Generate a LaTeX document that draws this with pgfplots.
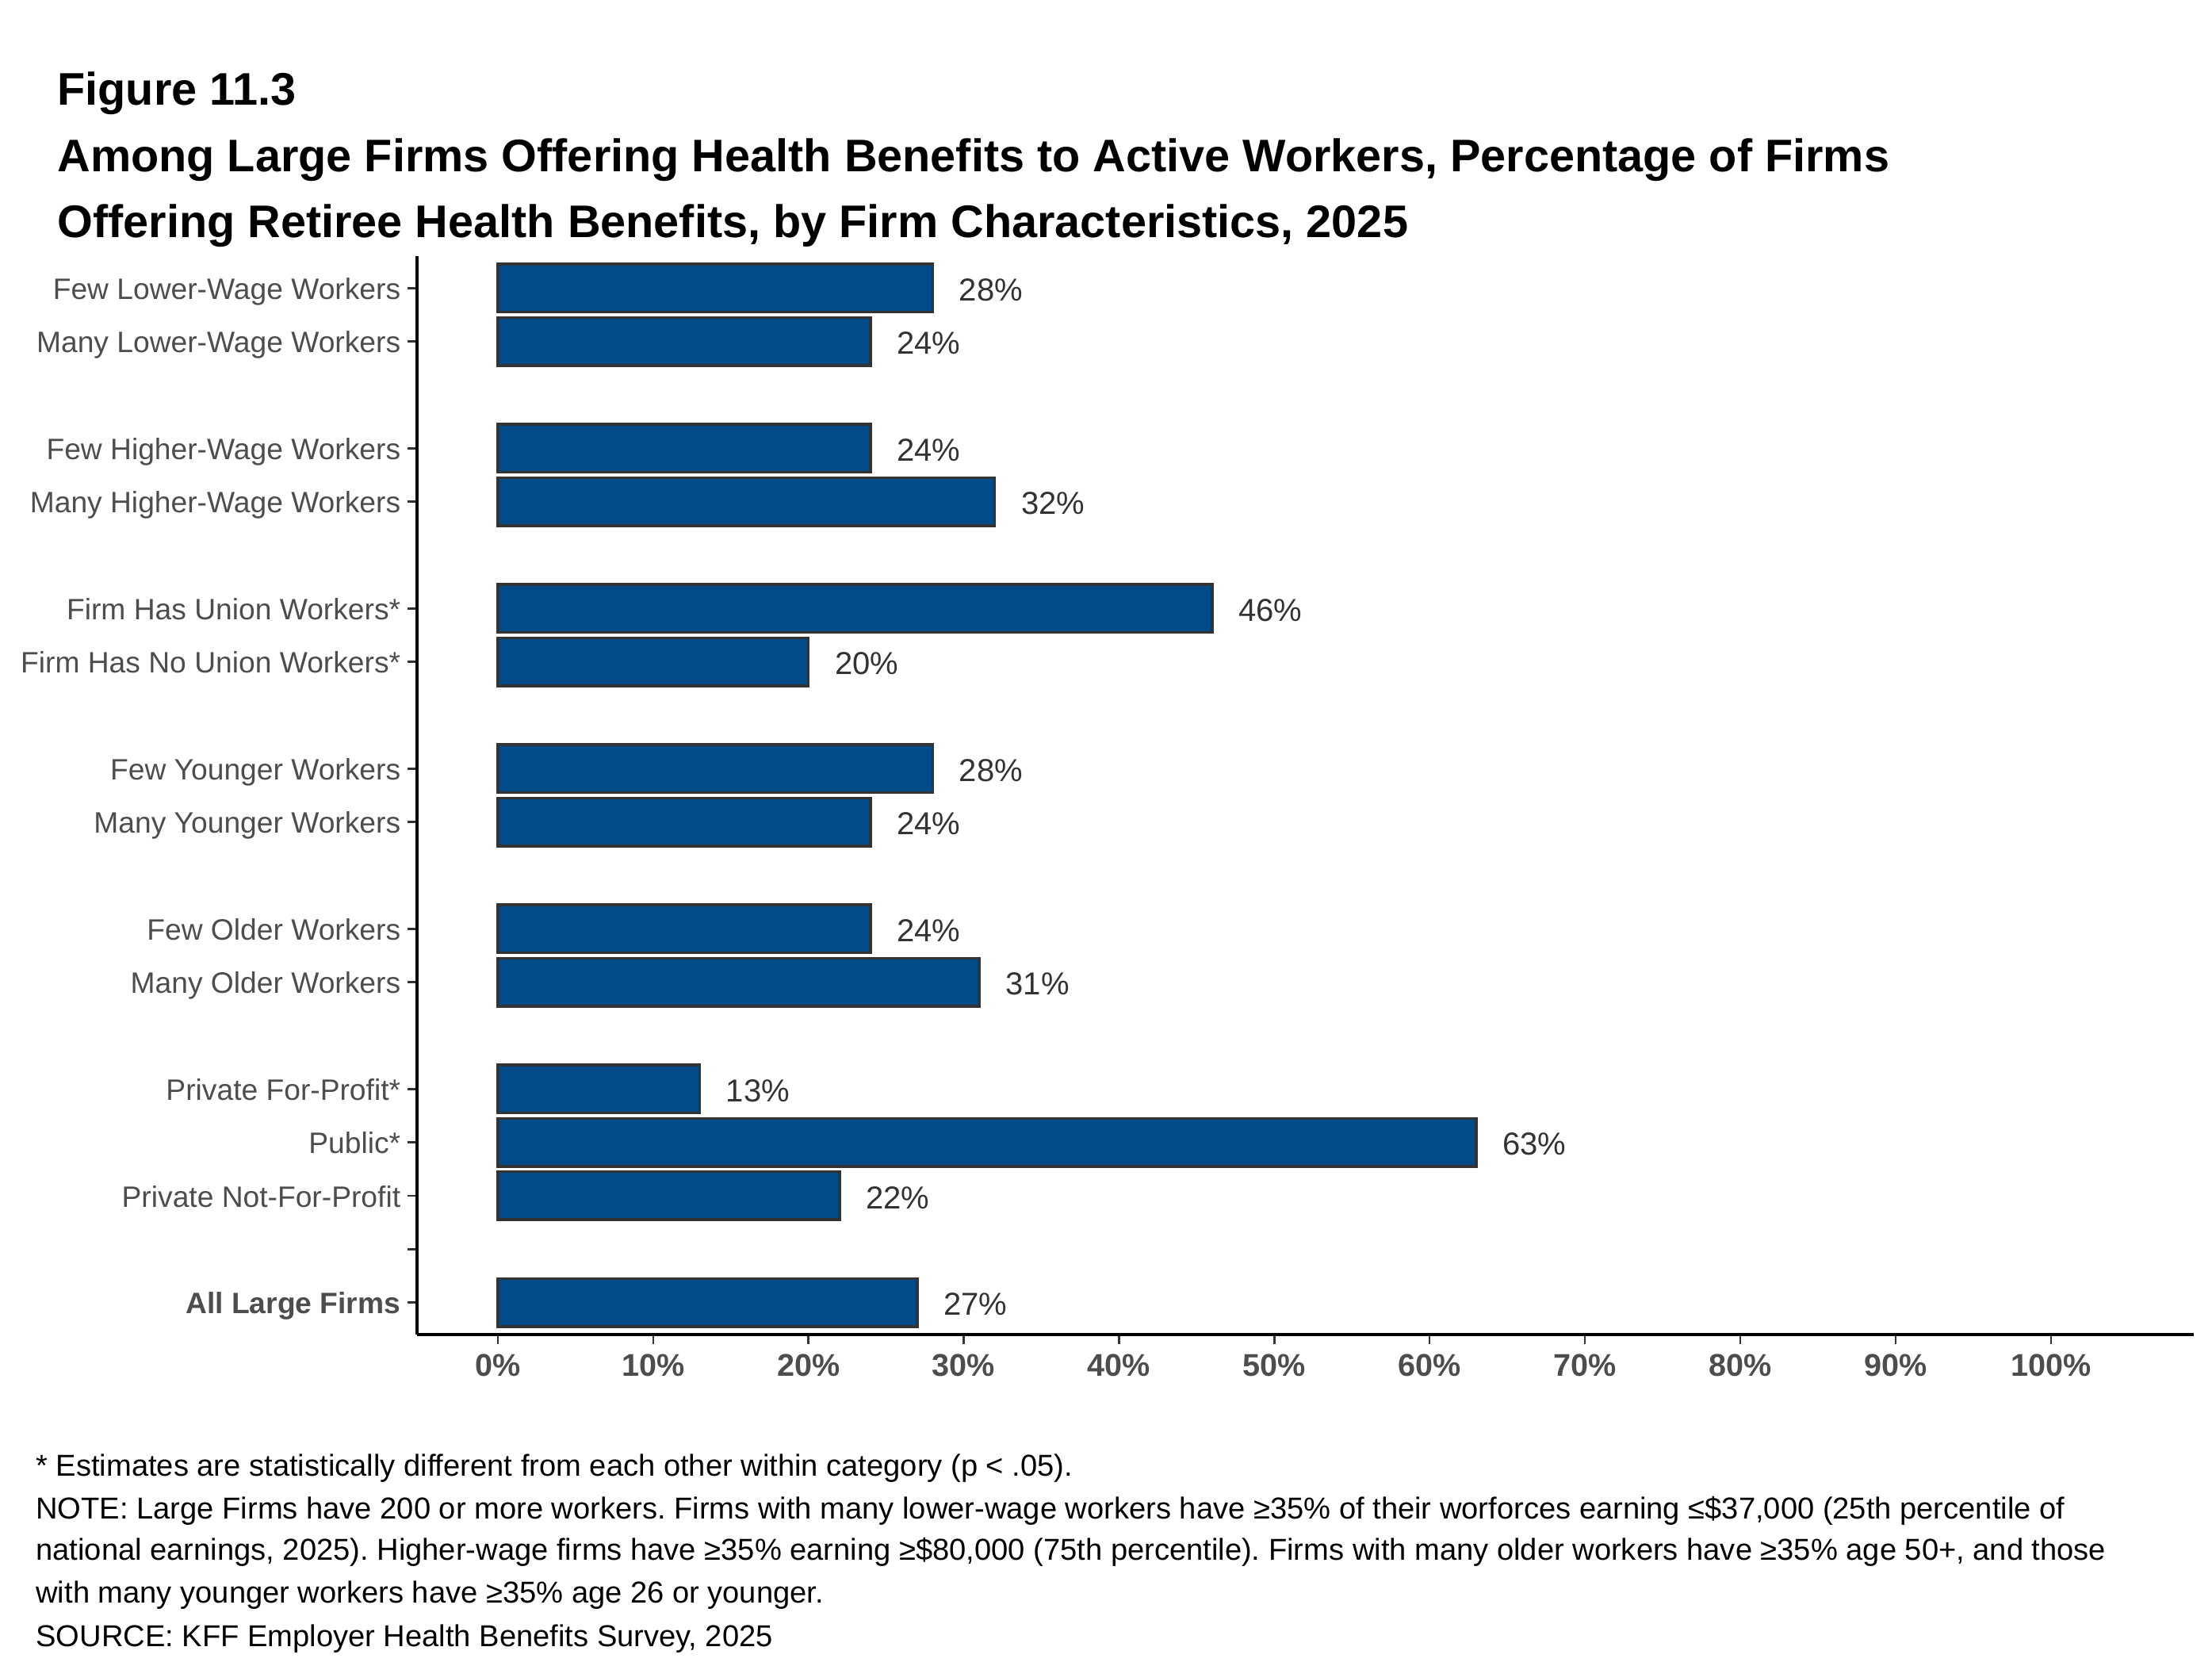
\documentclass[border=0pt]{standalone}
\usepackage{fontspec}
\setmainfont{Liberation Sans}
\usepackage{pgfplots}
\pgfplotsset{compat=1.18}
\definecolor{barblue}{HTML}{004B88}
\definecolor{tickgray}{HTML}{4D4D4D}
\definecolor{dgray}{HTML}{333333}
\frenchspacing
\begin{document}
\begin{tikzpicture}
\path[use as bounding box] (0,0) rectangle (669.6pt,504pt);
\begin{axis}[
 at={(126.24pt,100.08pt)}, anchor=south west,
 scale only axis, width=537.84pt, height=326.4pt,
 xmin=-5.2, xmax=109.2, ymin=-0.6, ymax=19.6,
 axis x line*=bottom, axis y line*=left,
 axis line style={black, line width=0.8pt, -},
 tick align=outside, major tick length=2.9pt,
 tick style={dgray, line width=0.6pt},
 xtick={0,10,20,30,40,50,60,70,80,90,100},
 xticklabels={0\%,10\%,20\%,30\%,40\%,50\%,60\%,70\%,80\%,90\%,100\%},
 xticklabel style={font=\fontsize{9.5}{11}\selectfont\bfseries, text=tickgray, inner sep=0pt, yshift=-2.8pt},
 ytick={0,1,2,3,4,6,7,9,10,12,13,15,16,18,19},
 yticklabels={\textbf{All Large Firms},{},Private Not-For-Profit,Public*,Private For-Profit*,Many Older Workers,Few Older Workers,Many Younger Workers,Few Younger Workers,Firm Has No Union Workers*,Firm Has Union Workers*,Many Higher-Wage Workers,Few Higher-Wage Workers,Many Lower-Wage Workers,Few Lower-Wage Workers},
 yticklabel style={font=\fontsize{8.93}{10}\selectfont, text=tickgray, inner sep=0pt, anchor=base east, xshift=-1.9pt, yshift=-3.4pt},
 xbar, bar width=0.9, bar shift=0pt,
 nodes near coords={\pgfplotspointmeta\%},
 point meta=explicit symbolic,
 nodes near coords style={font=\fontsize{9.6}{11}\selectfont, text=dgray, anchor=base west, inner sep=0pt, xshift=7.6pt, yshift=-3.9pt},
 clip=false,
]
\addplot[fill=barblue, draw=dgray, line width=0.85pt] coordinates {
 (28,19) [28]
 (24,18) [24]
 (24,16) [24]
 (32,15) [32]
 (46,13) [46]
 (20,12) [20]
 (28,10) [28]
 (24,9) [24]
 (24,7) [24]
 (31,6) [31]
 (13,4) [13]
 (63,3) [63]
 (22,2) [22]
 (27,0) [27]
};
\end{axis}
\begin{scope}[every node/.style={anchor=base west, inner sep=0pt, font=\fontsize{13.83}{16}\selectfont\bfseries}]
\node at (17.2pt,472.2pt) {Figure 11.3};
\node at (17.2pt,452pt) {Among Large Firms Offering Health Benefits to Active Workers, Percentage of Firms};
\node at (17.2pt,432pt) {Offering Retiree Health Benefits, by Firm Characteristics, 2025};
\end{scope}
\begin{scope}[every node/.style={anchor=base west, inner sep=0pt, font=\fontsize{9.15}{10}\selectfont}]
\node at (10.7pt,57.2pt) {* Estimates are statistically different from each other within category (p < .05).};
\node at (10.7pt,44.4pt) {NOTE: Large Firms have 200 or more workers. Firms with many lower-wage workers have ≥35\% of their worforces earning ≤\$37,000 (25th percentile of};
\node at (10.7pt,31.7pt) {national earnings, 2025). Higher-wage firms have ≥35\% earning ≥\$80,000 (75th percentile). Firms with many older workers have ≥35\% age 50+, and those};
\node at (10.7pt,18.8pt) {with many younger workers have ≥35\% age 26 or younger.};
\node at (10.7pt,5.6pt) {SOURCE: KFF Employer Health Benefits Survey, 2025};
\end{scope}
\end{tikzpicture}
\end{document}
